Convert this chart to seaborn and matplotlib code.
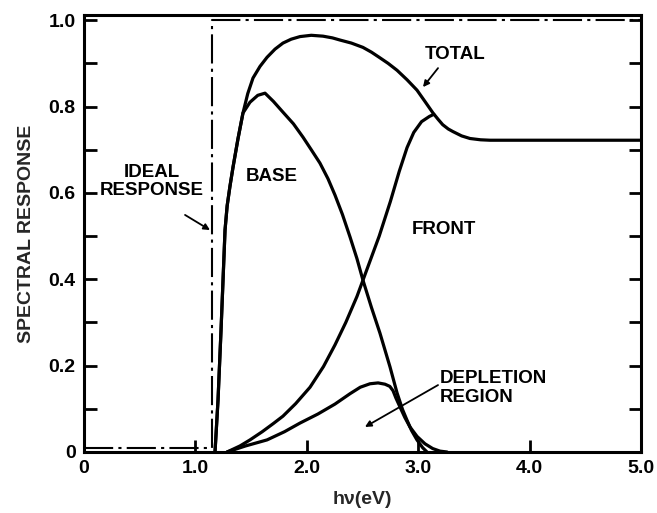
import matplotlib
matplotlib.use("Agg")
import matplotlib.pyplot as plt
import seaborn as sns
import pandas as pd
from matplotlib.ticker import FixedLocator, NullLocator

# ---- data (photon energy hv in eV, spectral response) ----
ideal_x = [0.0, 1.15, 1.15, 5.0]
ideal_y = [0.01, 0.01, 1.0, 1.0]

total_x = [1.176, 1.203, 1.230, 1.266, 1.285, 1.310, 1.338, 1.382, 1.427, 1.470, 1.517,
           1.580, 1.643, 1.715, 1.786, 1.860, 1.939, 2.040, 2.145, 2.230, 2.298, 2.400,
           2.504, 2.580, 2.650, 2.730, 2.810, 2.900, 2.989, 3.060, 3.133, 3.180, 3.220,
           3.270, 3.312, 3.390, 3.465, 3.560, 3.645, 4.000, 4.500, 5.000]
total_y = [0.000, 0.120, 0.282, 0.514, 0.570, 0.615, 0.660, 0.725, 0.785, 0.830, 0.866,
           0.893, 0.914, 0.933, 0.947, 0.956, 0.962, 0.965, 0.963, 0.959, 0.954, 0.947,
           0.937, 0.926, 0.914, 0.900, 0.884, 0.862, 0.838, 0.812, 0.785, 0.770, 0.758,
           0.748, 0.742, 0.732, 0.726, 0.723, 0.722, 0.722, 0.722, 0.722]

base_x = [1.176, 1.203, 1.230, 1.266, 1.285, 1.310, 1.338, 1.382, 1.427, 1.490, 1.560,
          1.625, 1.700, 1.786, 1.880, 1.966, 2.040, 2.118, 2.190, 2.253, 2.320, 2.388,
          2.450, 2.504, 2.580, 2.657, 2.747, 2.810, 2.860, 2.899, 2.940, 2.989, 3.040, 3.079]
base_y = [0.000, 0.120, 0.282, 0.514, 0.570, 0.615, 0.660, 0.725, 0.785, 0.810, 0.826,
          0.831, 0.812, 0.787, 0.760, 0.729, 0.700, 0.669, 0.633, 0.595, 0.550, 0.498,
          0.448, 0.398, 0.335, 0.275, 0.197, 0.137, 0.098, 0.074, 0.050, 0.028, 0.010, 0.000]

front_x = [1.284, 1.400, 1.490, 1.600, 1.700, 1.786, 1.900, 2.029, 2.150, 2.253, 2.350,
           2.450, 2.550, 2.650, 2.750, 2.830, 2.900, 2.960, 3.030, 3.100, 3.140]
front_y = [0.000, 0.014, 0.028, 0.047, 0.066, 0.083, 0.112, 0.150, 0.198, 0.248, 0.300,
           0.360, 0.430, 0.500, 0.580, 0.650, 0.705, 0.740, 0.765, 0.777, 0.782]

depl_x = [1.284, 1.450, 1.643, 1.800, 1.939, 2.100, 2.253, 2.388, 2.480, 2.567, 2.640,
          2.702, 2.745, 2.774, 2.800, 2.837, 2.880, 2.926, 2.990, 3.061, 3.130, 3.196, 3.259]
depl_y = [0.000, 0.014, 0.028, 0.047, 0.067, 0.088, 0.111, 0.135, 0.150, 0.158, 0.160,
          0.157, 0.152, 0.142, 0.125, 0.104, 0.080, 0.058, 0.036, 0.019, 0.008, 0.002, 0.000]

x_ticks = [0, 1, 2, 3, 4, 5]
x_tick_labels = ["0", "1.0", "2.0", "3.0", "4.0", "5.0"]
y_ticks = [0, 0.2, 0.4, 0.6, 0.8, 1.0]
y_tick_labels = ["0", "0.2", "0.4", "0.6", "0.8", "1.0"]
y_minor = [0.1, 0.3, 0.5, 0.7, 0.9]

# ---- styling ----
sns.set_theme(style="ticks")
plt.rcParams['font.family'] = ['Liberation Sans', 'DejaVu Sans']
plt.rcParams['font.weight'] = 'bold'

fig = plt.figure(figsize=(6.57, 5.13), dpi=100)
ax = fig.add_axes([84 / 657, 1 - 452 / 513, (641 - 84) / 657, (452 - 15) / 513])

curve_lw = 2.3
for xs, ys in [(total_x, total_y), (base_x, base_y), (front_x, front_y), (depl_x, depl_y)]:
    df = pd.DataFrame({"hv": xs, "resp": ys})
    sns.lineplot(data=df, x="hv", y="resp", ax=ax, color="black", linewidth=curve_lw,
                 sort=False, estimator=None, solid_capstyle="round", solid_joinstyle="round")

ideal_df = pd.DataFrame({"hv": ideal_x, "resp": ideal_y})
sns.lineplot(data=ideal_df, x="hv", y="resp", ax=ax, color="black", linewidth=1.5,
             sort=False, estimator=None, linestyle=(0, (14, 2.5, 1.5, 2.5)))

ax.set_xlim(0, 5)
ax.set_ylim(0, 1.012)
ax.xaxis.set_major_locator(FixedLocator(x_ticks))
ax.set_xticklabels(x_tick_labels)
ax.xaxis.set_minor_locator(NullLocator())
ax.yaxis.set_major_locator(FixedLocator(y_ticks))
ax.set_yticklabels(y_tick_labels)
ax.yaxis.set_minor_locator(FixedLocator(y_minor))

ax.tick_params(axis='both', which='both', direction='in', length=9, width=2.0,
               colors='black', labelsize=14)
ax.tick_params(axis='y', which='both', left=True, right=True, pad=6)
ax.tick_params(axis='x', which='both', top=False, bottom=True, pad=6)

for sp in ax.spines.values():
    sp.set_visible(True)
    sp.set_linewidth(2.2)
    sp.set_color('black')

ax.set_xlabel("hν(eV)", fontsize=14, fontweight='bold', labelpad=10)
ax.set_ylabel("SPECTRAL RESPONSE", fontsize=14, fontweight='bold', labelpad=10)

txt_kw = dict(fontsize=13.5, fontweight='bold', color='black')
arrow_kw = dict(arrowstyle='-|>', color='black', lw=1.3, mutation_scale=9,
                shrinkA=0, shrinkB=0)

ax.text(3.33, 0.921, "TOTAL", ha='center', va='center', **txt_kw)
ax.annotate("", xy=(3.043, 0.845), xytext=(3.178, 0.889), arrowprops=arrow_kw)

ax.text(1.688, 0.637, "BASE", ha='center', va='center', **txt_kw)

ax.text(0.61, 0.627, "IDEAL\nRESPONSE", ha='center', va='center', multialignment='center',
        linespacing=1.1, **txt_kw)
ax.annotate("", xy=(1.131, 0.514), xytext=(0.907, 0.549), arrowprops=arrow_kw)

ax.text(3.232, 0.516, "FRONT", ha='center', va='center', **txt_kw)

ax.text(3.196, 0.148, "DEPLETION\nREGION", ha='left', va='center', multialignment='left',
        linespacing=1.1, **txt_kw)
ax.annotate("", xy=(2.522, 0.058), xytext=(3.178, 0.155), arrowprops=arrow_kw)

fig.savefig("out.png", dpi=100, facecolor='white')
